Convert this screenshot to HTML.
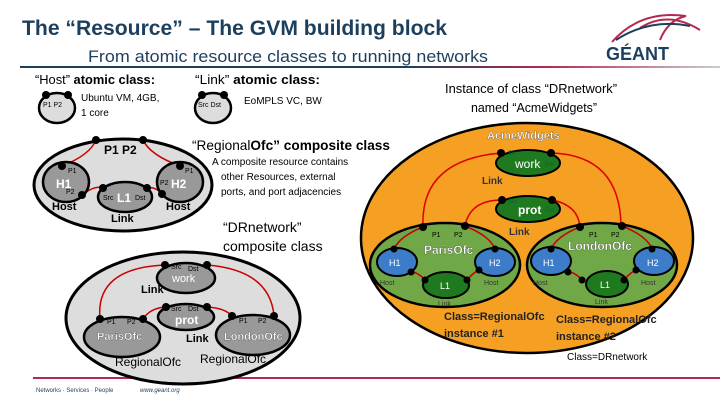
<!DOCTYPE html>
<html><head><meta charset="utf-8"><style>
body{margin:0;background:#fff}
svg{display:block}
text{font-family:"Liberation Sans",sans-serif}
</style></head><body>
<svg width="720" height="405" viewBox="0 0 720 405" xmlns="http://www.w3.org/2000/svg">
<defs>
<linearGradient id="hl" x1="0" x2="1"><stop offset="0" stop-color="#1d3f5e"/><stop offset="0.55" stop-color="#1d3f5e"/><stop offset="0.75" stop-color="#b5294e"/><stop offset="1" stop-color="#ccc"/></linearGradient>
</defs>
<text x="22" y="35" font-size="21" font-weight="bold" fill="#1d3f5e" textLength="425" lengthAdjust="spacingAndGlyphs">The “Resource” – The GVM building block</text>
<text x="88" y="62" font-size="17" fill="#1d3f5e" textLength="400" lengthAdjust="spacingAndGlyphs">From atomic resource classes to running networks</text>
<path d="M612 42 Q640 10 686 16 Q668 20 660 40 M640 28 Q668 10 700 30" fill="none" stroke="#b5294e" stroke-width="2"/>
<path d="M616 40 Q650 18 690 26" fill="none" stroke="#1d3f5e" stroke-width="2"/>
<text x="606" y="60" font-size="18" font-weight="bold" fill="#1d3f5e">GÉANT</text>
<rect x="20" y="66" width="700" height="2" fill="url(#hl)"/>
<rect x="33" y="377" width="687" height="2" fill="#b5294e"/>
<text x="36" y="392" font-size="6" fill="#1d3f5e">Networks · Services · People</text>
<text x="140" y="392" font-size="6" font-style="italic" fill="#1d3f5e">www.geant.org</text>

<g font-size="13" fill="#000">
<text x="35" y="84" textLength="120" lengthAdjust="spacingAndGlyphs">“Host” <tspan font-weight="bold">atomic class:</tspan></text>
<text x="195" y="84" textLength="125" lengthAdjust="spacingAndGlyphs">“Link” <tspan font-weight="bold">atomic class:</tspan></text>
<text x="445" y="93" textLength="172" lengthAdjust="spacingAndGlyphs">Instance of class “DRnetwork”</text>
<text x="471" y="112" textLength="126" lengthAdjust="spacingAndGlyphs">named “AcmeWidgets”</text>
<text x="192" y="150" font-size="14" textLength="198" lengthAdjust="spacingAndGlyphs">“Regional<tspan font-weight="bold">Ofc” composite class</tspan></text>
<text x="223" y="232" font-size="14">“DRnetwork”</text>
<text x="223" y="251" font-size="14">composite class</text>
</g>
<g font-size="10" fill="#000">
<text x="81" y="101">Ubuntu VM, 4GB,</text><text x="81" y="116">1 core</text>
<text x="244" y="104">EoMPLS VC, BW</text>
<text x="212" y="165">A composite resource contains</text>
<text x="221" y="180">other Resources, external</text>
<text x="221" y="195">ports, and port adjacencies</text>
</g>

<ellipse cx="57" cy="108" rx="18" ry="15" fill="#ddd" stroke="#000" stroke-width="2.5"/>
<circle cx="46" cy="95" r="4"/><circle cx="68" cy="95" r="4"/>
<text x="43" y="107" font-size="7">P1  P2</text>
<ellipse cx="213" cy="108" rx="18" ry="15" fill="#ddd" stroke="#000" stroke-width="2.5"/>
<circle cx="202" cy="95" r="4"/><circle cx="224" cy="95" r="4"/>
<text x="198" y="107" font-size="7">Src  Dst</text>

<ellipse cx="123" cy="185" rx="89" ry="46" fill="#ddd" stroke="#000" stroke-width="3"/>
<path d="M96 140 Q90 155 62 166 M143 140 Q150 155 180 166 M82 195 Q95 185 103 188 M147 188 Q155 186 162 194" fill="none" stroke="#c00" stroke-width="1.5"/>
<circle cx="96" cy="140" r="4"/><circle cx="143" cy="140" r="4"/>
<text x="104" y="154" font-size="12" font-weight="bold">P1  P2</text>
<ellipse cx="66" cy="182" rx="23" ry="20" fill="#999" stroke="#000" stroke-width="2.5"/>
<ellipse cx="180" cy="182" rx="23" ry="20" fill="#999" stroke="#000" stroke-width="2.5"/>
<ellipse cx="125" cy="197" rx="27" ry="15" fill="#999" stroke="#000" stroke-width="2.5"/>
<circle cx="62" cy="166" r="4"/><circle cx="82" cy="195" r="4"/><circle cx="180" cy="166" r="4"/><circle cx="162" cy="194" r="4"/>
<circle cx="103" cy="188" r="4"/><circle cx="147" cy="188" r="4"/>
<text x="56" y="188" font-size="12" font-weight="bold" fill="#fff">H1</text>
<text x="171" y="188" font-size="12" font-weight="bold" fill="#fff">H2</text>
<text x="117" y="202" font-size="12" font-weight="bold" fill="#fff">L1</text>
<g font-size="7"><text x="68" y="173">P1</text><text x="66" y="194">P2</text><text x="185" y="173">P1</text><text x="160" y="185">P2</text><text x="103" y="200">Src</text><text x="135" y="200">Dst</text></g>
<g font-size="11" font-weight="bold"><text x="52" y="210">Host</text><text x="166" y="210">Host</text><text x="111" y="222">Link</text></g>

<ellipse cx="183" cy="318" rx="117" ry="66" fill="#ddd" stroke="#000" stroke-width="3"/>
<path d="M100 319 Q95 268 165 265 M207 265 Q270 270 274 316 M143 319 Q150 308 166 307 M207 307 Q225 308 232 316" fill="none" stroke="#c00" stroke-width="1.5"/>
<ellipse cx="186" cy="278" rx="29" ry="15" fill="#999" stroke="#000" stroke-width="2.5"/>
<ellipse cx="186" cy="317" rx="28" ry="13" fill="#999" stroke="#000" stroke-width="2.5"/>
<ellipse cx="122" cy="337" rx="38" ry="20" fill="#999" stroke="#000" stroke-width="2.5"/>
<ellipse cx="253" cy="335" rx="37" ry="20" fill="#999" stroke="#000" stroke-width="2.5"/>
<circle cx="165" cy="265" r="4"/><circle cx="207" cy="265" r="4"/><circle cx="166" cy="307" r="4"/><circle cx="207" cy="307" r="4"/>
<circle cx="100" cy="319" r="4"/><circle cx="143" cy="319" r="4"/><circle cx="232" cy="316" r="4"/><circle cx="274" cy="316" r="4"/>
<g font-size="7"><text x="171" y="269">Src</text><text x="188" y="271">Dst</text><text x="171" y="311">Src</text><text x="188" y="311">Dst</text>
<text x="107" y="324">P1</text><text x="127" y="324">P2</text><text x="239" y="323">P1</text><text x="258" y="323">P2</text></g>
<text x="172" y="282" font-size="11" fill="#fff">work</text>
<text x="175" y="324" font-size="12" font-weight="bold" fill="#fff">prot</text>
<text x="97" y="340" font-size="11" font-weight="bold" fill="#fff" stroke="#000" stroke-width="0.2">ParisOfc</text>
<text x="224" y="340" font-size="11" font-weight="bold" fill="#fff" stroke="#000" stroke-width="0.2">LondonOfc</text>
<g font-size="11" font-weight="bold"><text x="141" y="293">Link</text><text x="186" y="342">Link</text></g>
<g font-size="12"><text x="115" y="366">RegionalOfc</text><text x="200" y="363">RegionalOfc</text></g>

<ellipse cx="527" cy="238" rx="166" ry="115" fill="#f5a023" stroke="#000" stroke-width="2.5"/>
<path d="M423 227 Q420 160 501 153 M551 153 Q620 155 621 226 M465 226 Q470 200 502 200 M552 200 Q578 205 580 227" fill="none" stroke="#d00" stroke-width="1.5"/>
<text x="487" y="139" font-size="11" font-weight="bold" fill="#fff" stroke="#000" stroke-width="0.2">AcmeWidgets</text>
<ellipse cx="528" cy="163" rx="32" ry="13" fill="#1f7a1f" stroke="#000" stroke-width="2"/>
<ellipse cx="528" cy="209" rx="32" ry="13" fill="#1f7a1f" stroke="#000" stroke-width="2"/>
<circle cx="501" cy="153" r="4"/><circle cx="551" cy="153" r="4"/><circle cx="502" cy="200" r="4"/><circle cx="552" cy="200" r="4"/>
<text x="515" y="168" font-size="12" fill="#fff">work</text>
<text x="518" y="214" font-size="12" font-weight="bold" fill="#fff">prot</text>
<g font-size="6" fill="#063"><text x="508" y="155">Src</text><text x="545" y="166">Dst</text><text x="508" y="203">Src</text><text x="545" y="212">Dst</text></g>
<g font-size="10" font-weight="bold" fill="#333"><text x="482" y="184">Link</text><text x="509" y="235">Link</text></g>

<g>
<ellipse cx="445" cy="265" rx="75" ry="42" fill="#70a848" stroke="#000" stroke-width="2.5"/>
<path d="M394 249 Q400 236 423 227 M465 226 Q490 236 495 249 M411 272 Q418 272 425 280 M467 280 Q474 272 479 270" fill="none" stroke="#c00" stroke-width="1.5"/>
<ellipse cx="397" cy="262" rx="20" ry="14" fill="#3d7cc9" stroke="#000" stroke-width="2"/>
<ellipse cx="495" cy="262" rx="20" ry="14" fill="#3d7cc9" stroke="#000" stroke-width="2"/>
<ellipse cx="446" cy="285" rx="23" ry="13" fill="#1f7a1f" stroke="#000" stroke-width="2"/>
<circle cx="423" cy="227" r="4"/><circle cx="465" cy="226" r="4"/>
<circle cx="394" cy="249" r="3.5"/><circle cx="411" cy="272" r="3.5"/><circle cx="495" cy="249" r="3.5"/><circle cx="479" cy="270" r="3.5"/>
<circle cx="425" cy="280" r="3.5"/><circle cx="467" cy="280" r="3.5"/>
<g font-size="7"><text x="432" y="237">P1</text><text x="454" y="237">P2</text></g>
<text x="424" y="254" font-size="12" font-weight="bold" fill="#fff" stroke="#000" stroke-width="0.2">ParisOfc</text>
<text x="389" y="266" font-size="9" fill="#fff">H1</text><text x="489" y="266" font-size="9" fill="#fff">H2</text>
<text x="440" y="289" font-size="9" fill="#fff">L1</text>
<g font-size="7" fill="#333"><text x="380" y="285">Host</text><text x="484" y="285">Host</text><text x="438" y="306">Link</text></g>
</g>
<g transform="translate(157,0)">
<ellipse cx="445" cy="265" rx="75" ry="42" fill="#70a848" stroke="#000" stroke-width="2.5"/>
<path d="M394 249 Q400 236 423 227 M465 226 Q490 236 495 249 M411 272 Q418 272 425 280 M467 280 Q474 272 479 270" fill="none" stroke="#c00" stroke-width="1.5"/>
<ellipse cx="394" cy="261" rx="20" ry="14" fill="#3d7cc9" stroke="#000" stroke-width="2"/>
<ellipse cx="497" cy="261" rx="20" ry="14" fill="#3d7cc9" stroke="#000" stroke-width="2"/>
<ellipse cx="450" cy="284" rx="21" ry="13" fill="#1f7a1f" stroke="#000" stroke-width="2"/>
<circle cx="423" cy="227" r="4"/><circle cx="465" cy="226" r="4"/>
<circle cx="394" cy="249" r="3.5"/><circle cx="411" cy="272" r="3.5"/><circle cx="495" cy="249" r="3.5"/><circle cx="479" cy="270" r="3.5"/>
<circle cx="425" cy="280" r="3.5"/><circle cx="467" cy="280" r="3.5"/>
<g font-size="7"><text x="432" y="237">P1</text><text x="454" y="237">P2</text></g>
<text x="411" y="250" font-size="12" font-weight="bold" fill="#fff" stroke="#000" stroke-width="0.2">LondonOfc</text>
<text x="386" y="266" font-size="9" fill="#fff">H1</text><text x="490" y="266" font-size="9" fill="#fff">H2</text>
<text x="443" y="288" font-size="9" fill="#fff">L1</text>
<g font-size="7" fill="#333"><text x="376" y="285">Host</text><text x="484" y="285">Host</text><text x="438" y="304">Link</text></g>
</g>
<g font-size="11" font-weight="bold" fill="#222"><text x="444" y="320">Class=RegionalOfc</text><text x="444" y="337">instance #1</text>
<text x="556" y="323">Class=RegionalOfc</text><text x="556" y="340">instance #2</text></g>
<text x="567" y="360" font-size="10">Class=DRnetwork</text>
</svg>
</body></html>
